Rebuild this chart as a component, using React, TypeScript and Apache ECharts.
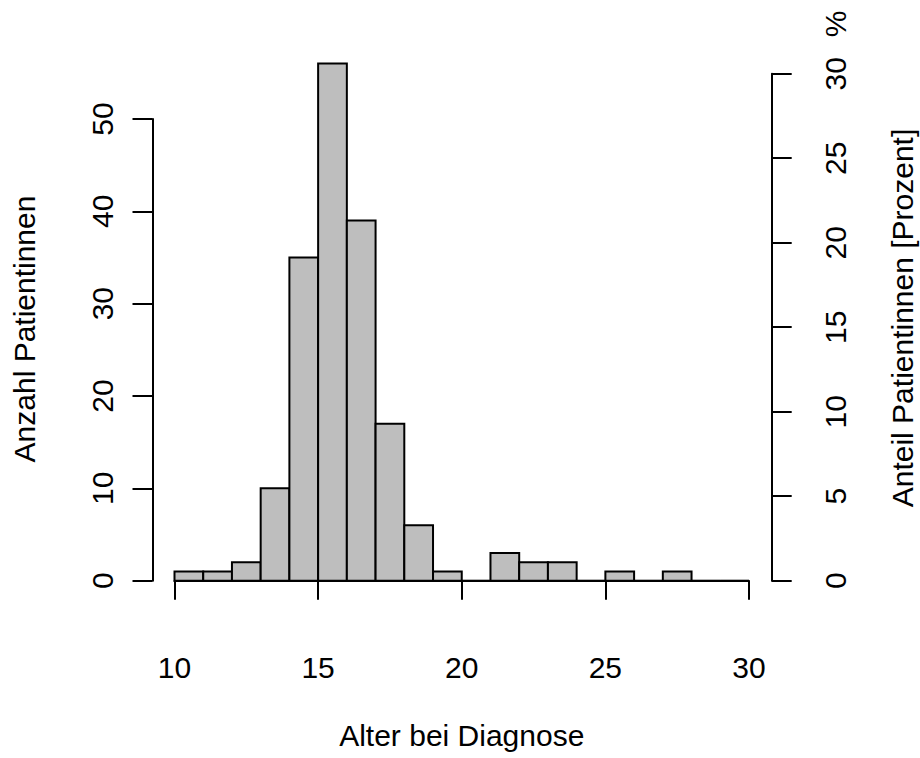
import React, { useEffect, useRef } from "react";
import * as echarts from "echarts";

// ---- Data ----
const binEdges = [10, 11, 12, 13, 14, 15, 16, 17, 18, 19, 20, 21, 22, 23, 24, 25, 26, 27, 28, 29, 30];
const counts = [1, 1, 2, 10, 35, 56, 39, 17, 6, 1, 0, 3, 2, 2, 0, 1, 0, 1, 0, 0];
const totalPatients = 183; // base of the percentage axis
const xTicks = [10, 15, 20, 25, 30];
const countTicks = [0, 10, 20, 30, 40, 50];
const percentTicks = [0, 5, 10, 15, 20, 25, 30];
const xTitle = "Alter bei Diagnose";
const leftTitle = "Anzahl Patientinnen";
const rightTitle = "Anteil Patientinnen [Prozent]";
const percentSign = "%";

// ---- Layout ----
const W = 920;
const H = 758;
const FONT = '"Liberation Sans", Arial, Helvetica, sans-serif';
const FS = 30;
const plotLeft = 174.5;
const plotRight = 749;
const countTopY = 119; // y of highest count tick
const baselineY = 580.7;

export default function App() {
  const ref = useRef<HTMLDivElement>(null);

  useEffect(() => {
    if (!ref.current) return;
    const chart = echarts.init(ref.current, null, { renderer: "svg" });

    const maxCountTick = countTicks[countTicks.length - 1];
    const maxPct = percentTicks[percentTicks.length - 1];
    const pxPerCount = (baselineY - countTopY) / maxCountTick;
    const pctTopY = baselineY - (maxPct / 100) * totalPatients * pxPerCount;

    const data = counts.map((c, i) => [binEdges[i], binEdges[i + 1], c]);

    const axisLineStyle = { color: "#000", width: 2 };
    const labelStyle = { color: "#000", fontSize: FS, fontFamily: FONT };

    const option: any = {
      animation: false,
      backgroundColor: "#fff",
      textStyle: { fontFamily: FONT },
      grid: [
        {
          left: plotLeft,
          right: W - plotRight,
          top: countTopY,
          bottom: H - baselineY,
          containLabel: false,
          outerBoundsMode: "none",
        },
        {
          left: plotLeft,
          right: W - plotRight,
          top: pctTopY,
          bottom: H - baselineY,
          containLabel: false,
          outerBoundsMode: "none",
        },
      ],
      xAxis: [
        {
          type: "value",
          gridIndex: 0,
          min: xTicks[0],
          max: xTicks[xTicks.length - 1],
          interval: xTicks[1] - xTicks[0],
          position: "bottom",
          offset: 21,
          axisLine: { show: true, lineStyle: axisLineStyle },
          axisTick: { show: true, length: 19, inside: false, lineStyle: axisLineStyle },
          axisLabel: { ...labelStyle, margin: 51 },
          splitLine: { show: false },
        },
        {
          type: "value",
          gridIndex: 1,
          min: xTicks[0],
          max: xTicks[xTicks.length - 1],
          show: false,
        },
      ],
      yAxis: [
        {
          type: "value",
          gridIndex: 0,
          min: countTicks[0],
          max: maxCountTick,
          interval: countTicks[1] - countTicks[0],
          position: "left",
          offset: 22,
          axisLine: { show: true, lineStyle: axisLineStyle },
          axisTick: { show: true, length: 20, inside: false, lineStyle: axisLineStyle },
          axisLabel: { ...labelStyle, rotate: 90, margin: 35 },
          splitLine: { show: false },
        },
        {
          type: "value",
          gridIndex: 1,
          min: percentTicks[0],
          max: maxPct,
          interval: percentTicks[1] - percentTicks[0],
          position: "right",
          offset: 22.7,
          axisLine: { show: true, lineStyle: axisLineStyle },
          axisTick: { show: true, length: 20, inside: false, lineStyle: axisLineStyle },
          axisLabel: { ...labelStyle, rotate: 90, margin: 49 },
          splitLine: { show: false },
        },
      ],
      series: [
        {
          type: "custom",
          xAxisIndex: 0,
          yAxisIndex: 0,
          clip: false,
          data,
          encode: { x: [0, 1], y: 2 },
          renderItem: (params: any, api: any) => {
            const x0 = api.value(0);
            const x1 = api.value(1);
            const c = api.value(2);
            const pTop = api.coord([x0, c]);
            const pBot = api.coord([x1, 0]);
            if (c === 0) {
              return {
                type: "line",
                shape: { x1: pTop[0], y1: pBot[1], x2: pBot[0], y2: pBot[1] },
                style: { stroke: "#000", lineWidth: 2 },
              };
            }
            return {
              type: "rect",
              shape: {
                x: pTop[0],
                y: pTop[1],
                width: pBot[0] - pTop[0],
                height: pBot[1] - pTop[1],
              },
              style: { fill: "#BEBEBE", stroke: "#000", lineWidth: 2 },
            };
          },
        },
      ],
      graphic: [
        {
          type: "text",
          x: (plotLeft + plotRight) / 2,
          y: 735.6,
          style: {
            text: xTitle,
            fontSize: FS,
            fontFamily: FONT,
            fill: "#000",
            align: "center",
            verticalAlign: "middle",
          },
        },
        {
          type: "text",
          x: 24.6,
          y: 329,
          rotation: Math.PI / 2,
          style: {
            text: leftTitle,
            fontSize: FS,
            fontFamily: FONT,
            fill: "#000",
            align: "center",
            verticalAlign: "middle",
          },
        },
        {
          type: "text",
          x: 902.6,
          y: 318,
          rotation: Math.PI / 2,
          style: {
            text: rightTitle,
            fontSize: FS,
            fontFamily: FONT,
            fill: "#000",
            align: "center",
            verticalAlign: "middle",
          },
        },
        {
          type: "text",
          x: 835.5,
          y: 24,
          rotation: Math.PI / 2,
          style: {
            text: percentSign,
            fontSize: FS,
            fontFamily: FONT,
            fill: "#000",
            align: "center",
            verticalAlign: "middle",
          },
        },
      ],
    };

    chart.setOption(option);
    return () => chart.dispose();
  }, []);

  return (
    <div
      ref={ref}
      style={{ position: "absolute", left: 0, top: 0, width: W, height: H, background: "#fff" }}
    />
  );
}
